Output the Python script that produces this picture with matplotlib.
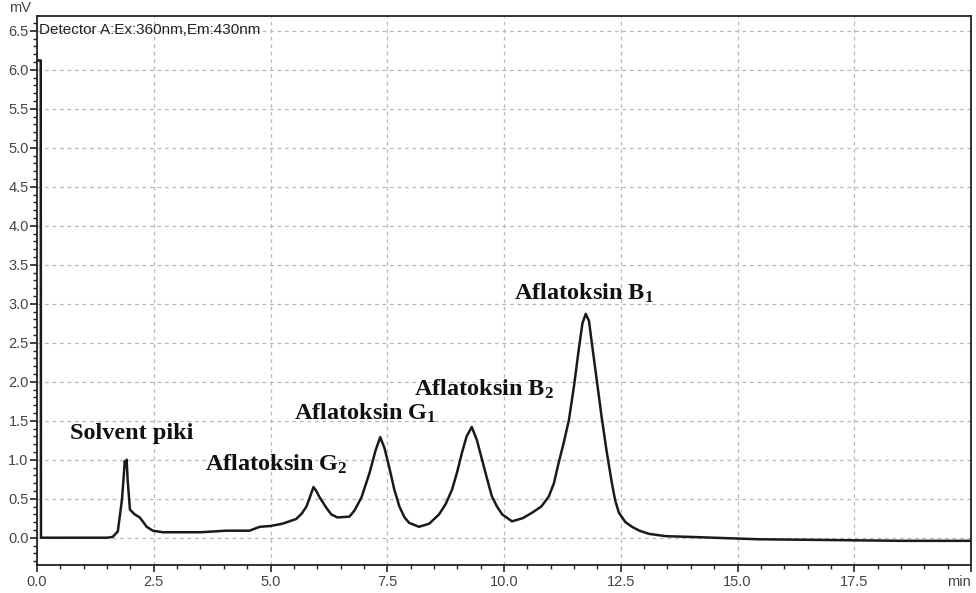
import matplotlib
matplotlib.use("Agg")
import matplotlib.pyplot as plt
from matplotlib.ticker import MultipleLocator, FixedLocator

plt.rcParams['mathtext.fontset'] = 'custom'
plt.rcParams['mathtext.bf'] = 'Liberation Serif:bold'
plt.rcParams['mathtext.rm'] = 'Liberation Serif'

# Chromatogram trace (time in min, signal in mV)
time_min = [0.0, 0.08, 0.085, 0.5, 1.0, 1.5, 1.62, 1.73, 1.82, 1.88, 1.90, 1.92, 1.94,
            1.99, 2.09, 2.2, 2.35, 2.48, 2.7, 3.0, 3.5, 4.05, 4.55, 4.77, 5.0, 5.26,
            5.55, 5.67, 5.77, 5.85, 5.92, 5.98, 6.05, 6.2, 6.3, 6.43, 6.69, 6.8, 6.95,
            7.12, 7.25, 7.35, 7.44, 7.54, 7.65, 7.76, 7.87, 7.97, 8.18, 8.4, 8.61, 8.75,
            8.89, 9.0, 9.1, 9.2, 9.31, 9.42, 9.53, 9.64, 9.74, 9.85, 9.96, 10.17, 10.4,
            10.6, 10.8, 10.96, 11.07, 11.17, 11.28, 11.39, 11.5, 11.6, 11.68, 11.75,
            11.82, 11.88, 11.98, 12.09, 12.2, 12.31, 12.38, 12.46, 12.6, 12.74, 12.9,
            13.1, 13.46, 14.0, 15.45, 17.0, 18.5, 20.0]
signal_mv = [6.12, 6.12, 0.0, 0.0, 0.0, 0.0, 0.01, 0.08, 0.49, 0.98, 0.92, 1.0, 0.75,
             0.36, 0.30, 0.26, 0.14, 0.09, 0.07, 0.07, 0.07, 0.09, 0.09, 0.14, 0.15, 0.18,
             0.24, 0.31, 0.40, 0.53, 0.65, 0.60, 0.52, 0.38, 0.30, 0.26, 0.27, 0.35, 0.52,
             0.83, 1.12, 1.29, 1.15, 0.91, 0.62, 0.40, 0.26, 0.19, 0.14, 0.18, 0.30, 0.43,
             0.62, 0.85, 1.09, 1.30, 1.42, 1.25, 1.0, 0.75, 0.53, 0.40, 0.30, 0.21, 0.25,
             0.32, 0.40, 0.53, 0.70, 0.96, 1.22, 1.51, 1.95, 2.41, 2.75, 2.87,
             2.78, 2.5, 2.05, 1.55, 1.10, 0.70, 0.48, 0.32, 0.20, 0.14, 0.09,
             0.05, 0.02, 0.01, -0.02, -0.03, -0.04, -0.04]

x_ticks = [0.0, 2.5, 5.0, 7.5, 10.0, 12.5, 15.0, 17.5, 20.0]
x_tick_labels = ["0.0", "2.5", "5.0", "7.5", "10.0", "12.5", "15.0", "17.5", "min"]
y_ticks = [0.0, 0.5, 1.0, 1.5, 2.0, 2.5, 3.0, 3.5, 4.0, 4.5, 5.0, 5.5, 6.0, 6.5]

peak_labels = ["Solvent piki", r"Aflatoksin G$\mathbf{_2}$", r"Aflatoksin G$\mathbf{_1}$",
               r"Aflatoksin B$\mathbf{_2}$", r"Aflatoksin B$\mathbf{_1}$"]
label_x = [0.7, 3.59, 5.51, 8.08, 10.21]
label_y = [1.33, 0.94, 1.60, 1.90, 3.13]

fig = plt.figure(figsize=(9.76, 5.93), dpi=100)
ax = fig.add_axes([37/976, 28/593, (971-37)/976, (565-16)/593])

ax.plot(time_min, signal_mv, color='#1a1a1a', lw=1.8, zorder=3,
        solid_joinstyle='round')

ax.set_xlim(0, 20)
ax.set_ylim(-0.35, 6.69)
ax.xaxis.set_major_locator(FixedLocator(x_ticks))
ax.set_xticklabels(x_tick_labels)
ax.xaxis.set_minor_locator(MultipleLocator(0.5))
ax.yaxis.set_major_locator(FixedLocator(y_ticks))
ax.set_yticklabels([f"{v:.1f}" for v in y_ticks])
ax.yaxis.set_minor_locator(MultipleLocator(0.1))

ax.tick_params(which='major', direction='out', length=5, width=1.2, colors='#222222',
               labelsize=10.5, labelcolor='#444444')
ax.tick_params(which='minor', direction='out', length=3, width=1.0, colors='#222222')
for lab in ax.get_xticklabels() + ax.get_yticklabels():
    lab.set_family('Liberation Sans')
ax.tick_params(axis='y', pad=1)
ax.tick_params(axis='x', pad=2)
last = ax.get_xticklabels()[-1]
last.set_horizontalalignment('right')

for s in ax.spines.values():
    s.set_linewidth(1.3)
    s.set_color('#222222')

ax.grid(True, which='major', color='#b8b8b8', linestyle=(0, (3, 3)), lw=0.9)
ax.set_axisbelow(True)

for txt, lx, ly in zip(peak_labels, label_x, label_y):
    ax.text(lx, ly, txt, family='Liberation Serif', weight='bold', fontsize=17.5,
            color='#111111', va='center', ha='left', zorder=4)

ax.text(0.002, 0.988, "Detector A:Ex:360nm,Em:430nm", transform=ax.transAxes,
        family='Liberation Sans', fontsize=11, color='#222222', va='top', ha='left')
fig.text(9/976, 1 - 8/593, "mV", family='Liberation Sans', fontsize=10.5,
         color='#444444', va='center', ha='left')

fig.savefig("out.png", dpi=100)
